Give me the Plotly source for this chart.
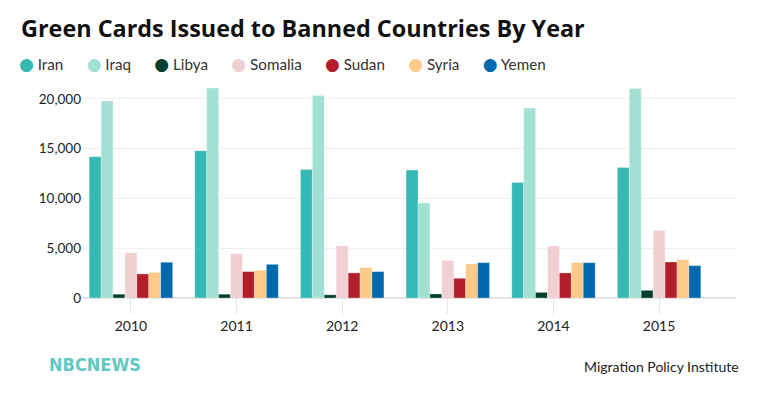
import plotly.graph_objects as go

years = ["2010", "2011", "2012", "2013", "2014", "2015"]
countries = ["Iran", "Iraq", "Libya", "Somalia", "Sudan", "Syria", "Yemen"]
colors = ["#36b8b5", "#a3e0d4", "#013e30", "#f0d0d3", "#b21f2b", "#ffca87", "#0068ac"]

iran = [14200, 14800, 12900, 12850, 11600, 13100]
iraq = [19800, 21100, 20350, 9550, 19100, 21050]
libya = [380, 380, 320, 400, 560, 770]
somalia = [4550, 4450, 5230, 3780, 5230, 6800]
sudan = [2420, 2650, 2520, 1980, 2520, 3620]
syria = [2580, 2780, 3050, 3420, 3560, 3850]
yemen = [3590, 3380, 2650, 3550, 3550, 3250]

series = [iran, iraq, libya, somalia, sudan, syria, yemen]
y_ticks = [0, 5000, 10000, 15000, 20000]

FONT = "Lato, 'Open Sans', sans-serif"

fig = go.Figure()
for name, vals, col in zip(countries, series, colors):
    fig.add_trace(go.Bar(
        x=years, y=vals, name=name, showlegend=False,
        marker=dict(color=col, line=dict(color="rgba(255,255,255,0.35)", width=0.8)),
    ))

legend_text = ("&nbsp;" * 6).join(
    f"<span style='color:{c};font-family:DejaVu Sans;font-size:17px'>●</span>&nbsp;{n}"
    for n, c in zip(countries, colors)
)

# the page body has an 8px margin, so the figure starts at (8, 8) in the window
OFF = 8
W, H = 760 - OFF, 399 - OFF
L, R, T, B = 81.5 - OFF, 24, 84.4 - OFF, 101.3
pw, ph = W - L - R, H - T - B

def px(x):
    return (x - OFF - L) / pw

def py(y):
    return (H - B - (y - OFF)) / ph

fig.update_layout(
    width=W, height=H,
    margin=dict(l=L, r=R, t=T, b=B, pad=0),
    paper_bgcolor="white", plot_bgcolor="white",
    barmode="group", bargap=0.21, bargroupgap=0,
    font=dict(family=FONT, size=14, color="#333333"),
    title=dict(
        text="<b>Green Cards Issued to Banned Countries By Year</b>",
        font=dict(family="'Open Sans', Lato, sans-serif", size=23.4, color="#111111"),
        x=(21 - OFF) / W, xanchor="left", xref="container",
        y=1 - (29 - OFF) / H, yanchor="middle", yref="container",
    ),
    xaxis=dict(
        type="category", range=[-0.463, 5.728],
        showgrid=False, showline=False, zeroline=False,
        ticks="outside", ticklen=15, tickcolor="#e6e6e6", tickwidth=1,
        tickfont=dict(family=FONT, size=14, color="#222222"),
        fixedrange=True,
    ),
    yaxis=dict(
        range=[0, 21500], tickvals=y_ticks, tickformat=",d",
        showgrid=True, gridcolor="#efefef", gridwidth=1,
        zeroline=True, zerolinecolor="#e4e4e4", zerolinewidth=1.5,
        showline=False, ticks="",
        tickfont=dict(family=FONT, size=13.5, color="#222222"),
        fixedrange=True,
    ),
    annotations=[
        dict(text=legend_text, xref="paper", yref="paper",
             x=px(16), y=py(64), xanchor="left", yanchor="middle",
             showarrow=False, font=dict(family=FONT, size=15.2, color="#333333")),
        dict(text="<b>NBCNEWS</b>", xref="paper", yref="paper",
             x=px(46), y=py(363.5), xanchor="left", yanchor="middle",
             showarrow=False,
             font=dict(family="'DejaVu Sans Condensed', 'Liberation Sans Narrow', Lato, sans-serif",
                       size=18, color="#5fc9c2")),
        dict(text="Migration Policy Institute", xref="paper", yref="paper",
             x=px(741), y=py(366), xanchor="right", yanchor="middle",
             showarrow=False, font=dict(family=FONT, size=14, color="#222222")),
    ],
)

fig.write_html("out.html")
